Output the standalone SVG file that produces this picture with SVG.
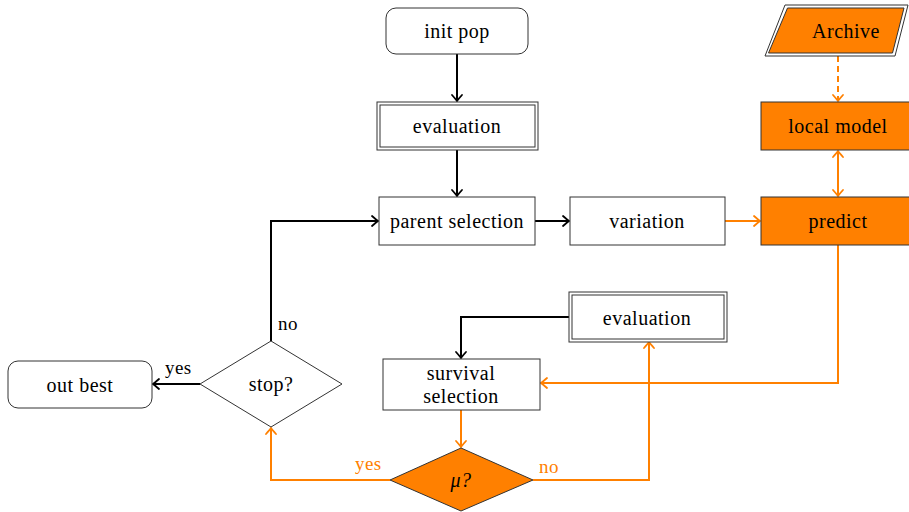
<svg xmlns="http://www.w3.org/2000/svg" width="909" height="512" viewBox="0 0 909 512">
  <style>
    .box { fill: #fff; stroke: #333; stroke-width: 1; }
    .hot { fill: #ff8000; stroke: #333; stroke-width: 1; }
    .lbl { font-family: "Liberation Serif", "DejaVu Serif", serif; font-size: 20px; letter-spacing: 0.5px; fill: #000; text-anchor: middle; dominant-baseline: central; }
    .olbl { font-family: "Liberation Serif", "DejaVu Serif", serif; font-size: 19px; letter-spacing: 0.4px; fill: #ff8000; }
    .blbl { font-family: "Liberation Serif", "DejaVu Serif", serif; font-size: 19px; letter-spacing: 0.4px; fill: #000; }
    .blk { fill: none; stroke: #000; stroke-width: 2; }
    .org { fill: none; stroke: #ff8000; stroke-width: 2; }
  </style>
  <defs>
    <marker id="tipK" markerUnits="userSpaceOnUse" markerWidth="14" markerHeight="14" viewBox="-8 -7 10 14" refX="0" refY="0" orient="auto-start-reverse">
      <path d="M-6,-5 Q-1.5,-1 0,0 Q-1.5,1 -6,5" fill="none" stroke="#000" stroke-width="1.8" stroke-linecap="round"/>
    </marker>
    <marker id="tipO" markerUnits="userSpaceOnUse" markerWidth="14" markerHeight="14" viewBox="-8 -7 10 14" refX="0" refY="0" orient="auto-start-reverse">
      <path d="M-6,-5 Q-1.5,-1 0,0 Q-1.5,1 -6,5" fill="none" stroke="#ff8000" stroke-width="1.8" stroke-linecap="round"/>
    </marker>
  </defs>

  <g id="connectors">
    <path class="blk" d="M457,54 V101" marker-end="url(#tipK)"/>
    <path class="blk" d="M457,150 V196" marker-end="url(#tipK)"/>
    <path class="blk" d="M535,221 H569" marker-end="url(#tipK)"/>
    <path class="org" d="M725,221 H760" marker-end="url(#tipO)"/>
    <path class="org" d="M838,56 V101" stroke-dasharray="6,4" stroke-width="1.4" marker-end="url(#tipO)"/>
    <path class="org" d="M838,151 V196" marker-start="url(#tipO)" marker-end="url(#tipO)"/>
    <path class="org" d="M838,245 V383 H541" marker-end="url(#tipO)"/>
    <path class="blk" d="M569,317 H461 V358" marker-end="url(#tipK)"/>
    <path class="org" d="M461,410 V447" marker-end="url(#tipO)"/>
    <path class="org" d="M533,480 H649 V342" marker-end="url(#tipO)"/>
    <path class="org" d="M390,480 H271 V428" marker-end="url(#tipO)"/>
    <path class="blk" d="M271,341 V221 H378" marker-end="url(#tipK)"/>
    <path class="blk" d="M200,384 H153" marker-end="url(#tipK)"/>
    <text class="olbl" x="355" y="470">yes</text>
    <text class="olbl" x="539" y="473">no</text>
    <text class="blbl" x="278" y="330">no</text>
    <text class="blbl" x="165" y="374">yes</text>
  </g>

  <g id="init-pop">
    <rect class="box" x="386" y="8" width="142" height="46" rx="10"/>
    <text class="lbl" x="457" y="31">init pop</text>
  </g>

  <g id="evaluation-top">
    <rect class="box" x="377" y="102" width="161" height="48"/>
    <rect class="box" x="380" y="105" width="155" height="42"/>
    <text class="lbl" x="457" y="126">evaluation</text>
  </g>

  <g id="parent-selection">
    <rect class="box" x="379" y="197" width="156" height="48"/>
    <text class="lbl" x="457" y="221">parent selection</text>
  </g>

  <g id="variation">
    <rect class="box" x="570" y="197" width="155" height="48"/>
    <text class="lbl" x="647" y="221">variation</text>
  </g>

  <g id="archive">
    <polygon class="box" points="785,5 908,5 895,56 765,56"/>
    <polygon class="hot" points="787.5,8 904,8 892.5,53 768.5,53"/>
    <text class="lbl" x="846" y="31">Archive</text>
  </g>

  <g id="local-model">
    <rect class="hot" x="761" y="102" width="150" height="48"/>
    <text class="lbl" x="838" y="126">local model</text>
  </g>

  <g id="predict">
    <rect class="hot" x="761" y="197" width="150" height="48"/>
    <text class="lbl" x="838" y="221">predict</text>
  </g>

  <g id="evaluation-bottom">
    <rect class="box" x="569" y="292" width="158" height="50"/>
    <rect class="box" x="572" y="295" width="152" height="44"/>
    <text class="lbl" x="647" y="318">evaluation</text>
  </g>

  <g id="survival-selection">
    <rect class="box" x="383" y="359" width="157" height="51"/>
    <text class="lbl" x="461" y="373">survival</text>
    <text class="lbl" x="461" y="396">selection</text>
  </g>

  <g id="mu-check">
    <polygon class="hot" points="461,448 533,480 461,511 390,480"/>
    <text class="lbl" x="461" y="480" font-style="italic">μ?</text>
  </g>

  <g id="stop-check">
    <polygon class="box" points="271,341 342,384 271,427 200,384"/>
    <text class="lbl" x="271" y="384">stop?</text>
  </g>

  <g id="out-best">
    <rect class="box" x="8" y="361" width="144" height="47" rx="10"/>
    <text class="lbl" x="80" y="385">out best</text>
  </g>
</svg>
